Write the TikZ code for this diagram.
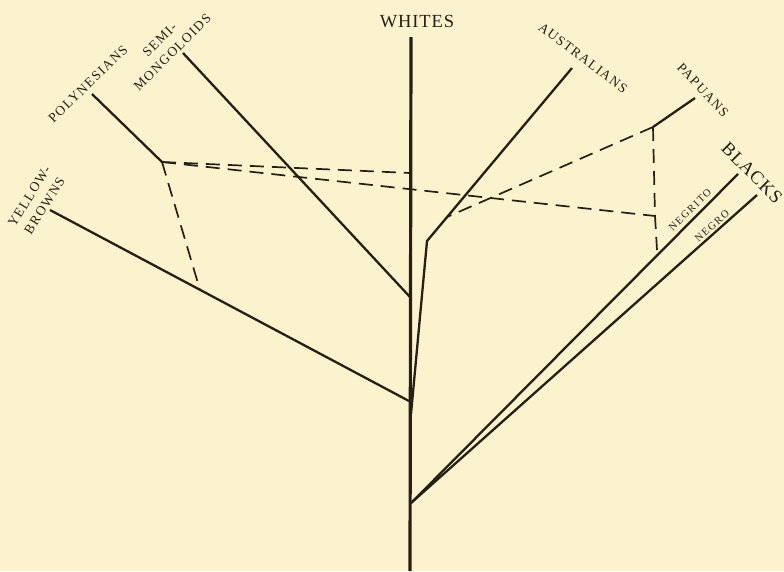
\documentclass[tikz,border=0pt]{standalone}
\usepackage{fontspec}
\usepackage{tikz}
\usetikzlibrary{positioning}
\newfontfamily\bigfont[LetterSpace=5]{Liberation Serif}
\newfontfamily\racefont[LetterSpace=10]{Liberation Serif}
\newfontfamily\subfont[LetterSpace=15]{Liberation Serif}
\definecolor{paper}{RGB}{251,243,206}
\definecolor{ink}{RGB}{40,31,20}

\begin{document}
\begin{tikzpicture}[
    x=1pt, y=-1pt,
    trunk/.style={ink, line width=3.2pt},
    branch/.style={ink, line width=2.3pt},
    link/.style={ink, line width=1.7pt, dash pattern=on 14pt off 8pt},
    biglabel/.style={ink, inner sep=0pt, font=\bigfont\fontsize{18.5}{20}\selectfont},
    racelabel/.style={ink, inner sep=0pt, align=center, font=\racefont\fontsize{13.5}{18}\selectfont},
    sublabel/.style={ink, inner sep=0pt, font=\subfont\fontsize{10.5}{12}\selectfont}
]

% Papier
\fill[paper] (0,0) rectangle (784,571);
\useasboundingbox (0,0) rectangle (784,571);

% Stamm
\coordinate (wTop) at (411,37);
\coordinate (wBot) at (410,571);
\draw[trunk] (wTop) -- (wBot);

% Gabelungen am Stamm
\coordinate (semiFork) at (410,297);
\coordinate (yellowFork) at (409,401);
\coordinate (ausFork) at (411,414);
\coordinate (blackFork) at (411,503);

% Enden und Knicke
\coordinate (semiEnd) at (183,53);
\coordinate (polyEnd) at (92,94);
\coordinate (polyFork) at (162,162);
\coordinate (yellowEnd) at (50,210);
\coordinate (ausEnd) at (572,68);
\coordinate (ausBend) at (427,241);
\coordinate (papEnd) at (695,98);
\coordinate (papFork) at (653,127);
\coordinate (negritoEnd) at (738,174);
\coordinate (negroEnd) at (757,195);

% Punkte der Querverbindungen
\coordinate (whiteLink) at (410,173);
\coordinate (negCorner) at (655,216);
\coordinate (negritoLink) at (657,250);
\coordinate (yellowLink) at (200,290);
\coordinate (ausLink) at (447,217);

% Aeste
\draw[branch] (semiEnd) -- (semiFork);
\draw[branch] (yellowEnd) -- (yellowFork);
\draw[branch] (polyEnd) -- (polyFork);
\draw[branch] (ausEnd) -- (ausBend) -- (ausFork);
\draw[branch] (papEnd) -- (papFork);
\draw[branch] (negritoEnd) -- (blackFork);
\draw[branch] (negroEnd) -- (blackFork);

% Querverbindungen
\draw[link] (polyFork) -- (whiteLink);
\draw[link] (polyFork) -- (negCorner);
\draw[link] (polyFork) -- (yellowLink);
\draw[link] (papFork) -- (ausLink);
\draw[link] (papFork) -- (negCorner) -- (negritoLink);

% Beschriftung
\node[biglabel] (whites) at (417,22) {WHITES};
\node[biglabel, rotate=-45] (blacks) at (752,173) {BLACKS};
\node[racelabel, rotate=-37] (australians) at (583,58) {AUSTRALIANS};
\node[racelabel, rotate=-47] (papuans) at (703,90) {PAPUANS};
\node[racelabel, rotate=44] (polynesians) at (88,84) {POLYNESIANS};
\node[racelabel, rotate=45] (semimong) at (166,46) {SEMI-\\MONGOLOIDS};
\node[racelabel, rotate=58] (yellowbrowns) at (37,201) {YELLOW-\\BROWNS};
\node[sublabel, rotate=45] (negrito) at (690,210) {NEGRITO};
\node[sublabel, rotate=42] (negro) at (712,226) {NEGRO};

\end{tikzpicture}
\end{document}
